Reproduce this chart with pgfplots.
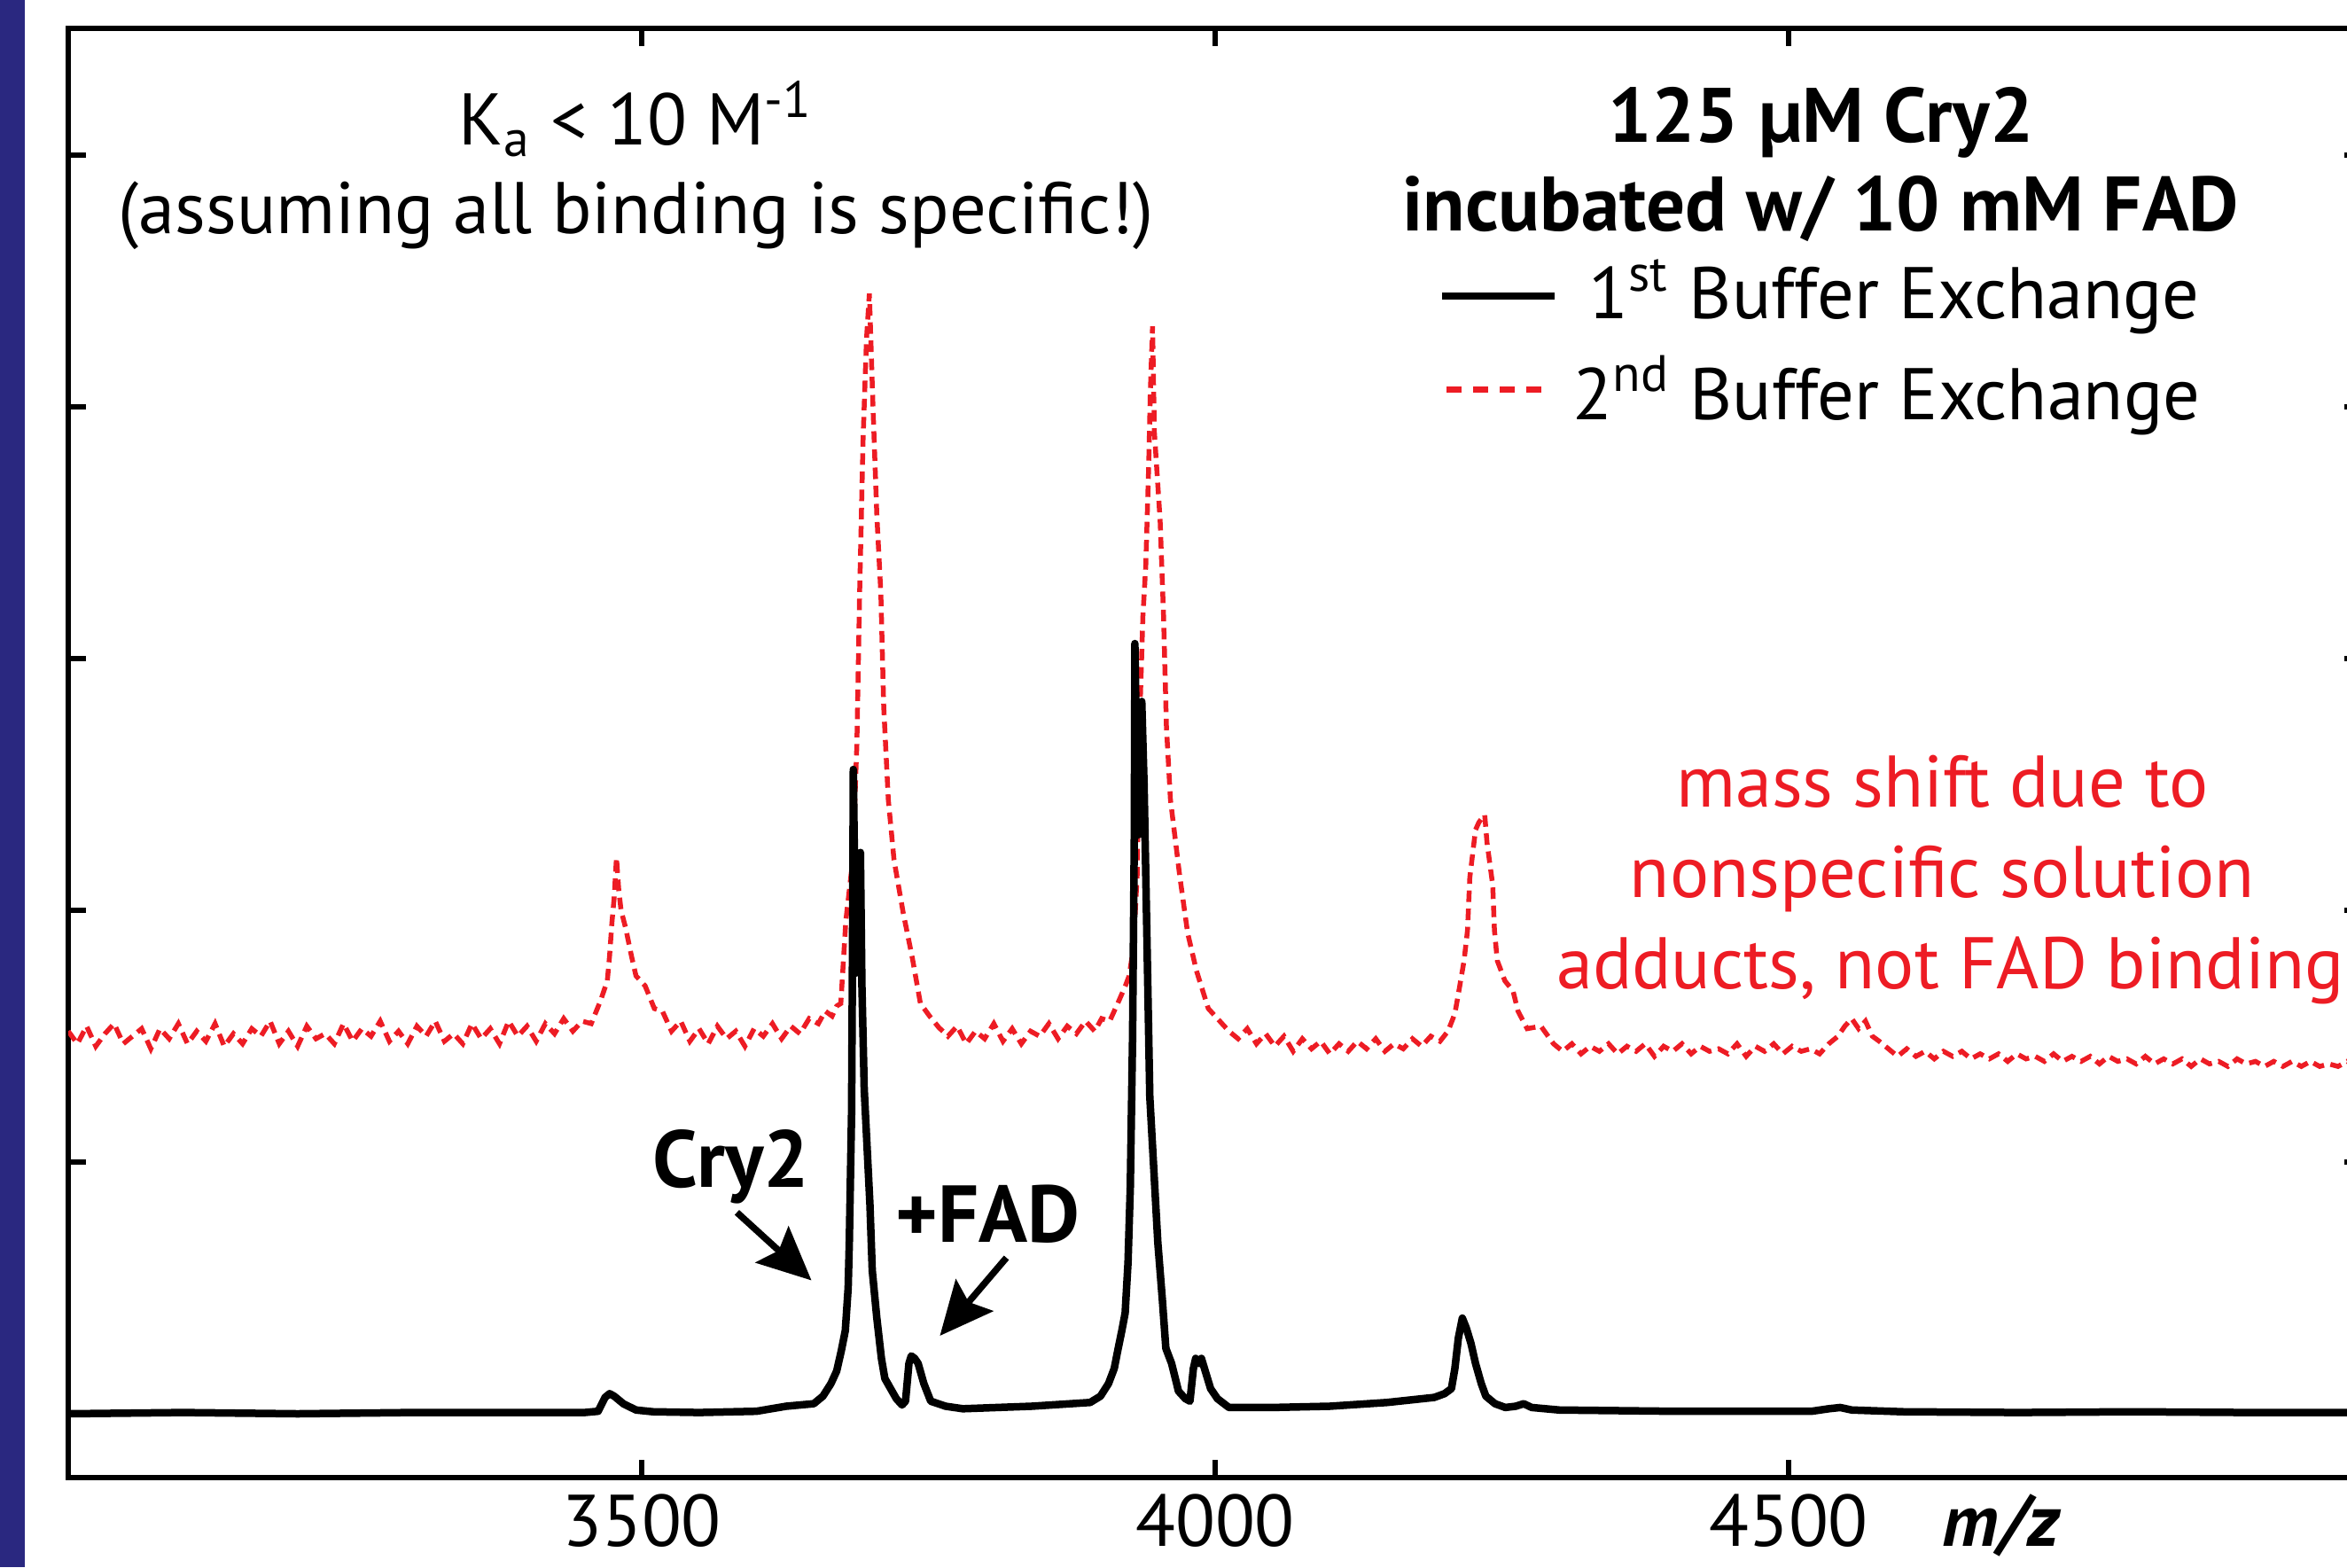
\documentclass[border=0pt]{standalone}
\usepackage{fontspec}
\setmainfont{PT Sans}
\usepackage{pgfplots}
\pgfplotsset{compat=1.18}
\usetikzlibrary{arrows.meta}
\definecolor{specred}{RGB}{237,28,36}
\definecolor{stripblue}{RGB}{42,40,128}
\newcommand\fs{\fontsize{16.5}{20}\selectfont}
\newcommand\fb{\fontsize{17.4}{20}\selectfont\bfseries}
\newcommand\fa{\fontsize{18.2}{20}\selectfont\bfseries}

\begin{document}
\begin{tikzpicture}
\begin{axis}[
    scale only axis,
    width=517.6pt, height=327pt,
    xmin=3000, xmax=5000,
    ymin=-0.2535, ymax=5.504,
    xtick={3500,4000,4500},
    ytick={1,2,3,4,5},
    yticklabels={},
    tick pos=both,
    tick align=inside,
    major tick length=4pt,
    axis line style={line width=1.2pt},
    tick style={line width=1.1pt, black},
    /pgf/number format/1000 sep={},
    /pgf/number format/assume math mode=true,
    xticklabel style={font=\fs, anchor=base, inner sep=0pt, yshift=-15.4pt},
    xlabel={\bfseries\itshape m/z},
    xlabel style={font=\fs, at={(rel axis cs:0.8425,0)}, anchor=base, inner sep=0pt, yshift=-15.4pt},
    clip mode=individual,
]

% 2nd buffer exchange (red, dashed, noisy)
\addplot[specred, line width=1.1pt, dash pattern=on 2.6pt off 1.5pt] coordinates {
(3000,1.52)(3008,1.47)(3016,1.54)(3024,1.46)(3032,1.51)(3040,1.55)(3048,1.47)(3056,1.50)
(3064,1.53)(3072,1.45)(3080,1.53)(3088,1.49)(3096,1.55)(3104,1.47)(3112,1.52)(3120,1.48)
(3128,1.55)(3136,1.46)(3144,1.51)(3152,1.47)(3160,1.53)(3168,1.50)(3176,1.56)(3184,1.47)
(3192,1.52)(3200,1.46)(3208,1.54)(3216,1.49)(3224,1.51)(3232,1.47)(3240,1.55)(3248,1.48)
(3256,1.53)(3264,1.50)(3272,1.56)(3280,1.48)(3288,1.52)(3296,1.47)(3304,1.54)(3312,1.50)
(3320,1.56)(3328,1.48)(3336,1.51)(3344,1.47)(3352,1.55)(3360,1.49)(3368,1.53)(3376,1.47)
(3384,1.56)(3392,1.50)(3400,1.54)(3408,1.48)(3416,1.55)(3424,1.51)(3432,1.57)(3440,1.52)
(3448,1.56)(3456,1.55)
(3464,1.64)(3470,1.72)(3472,1.82)(3474,1.95)(3476,2.05)(3478,2.21)(3480,2.08)(3482,2.00)
(3486,1.93)(3491,1.82)(3495,1.74)(3503,1.70)(3511,1.61)(3518,1.60)(3526,1.52)
(3534,1.56)(3542,1.48)(3550,1.53)(3558,1.47)(3566,1.54)(3574,1.49)(3582,1.52)(3590,1.46)
(3598,1.53)(3606,1.50)(3614,1.55)(3622,1.49)(3630,1.54)(3638,1.51)(3646,1.57)(3654,1.55)
(3660,1.60)(3666,1.58)(3670,1.62)
(3673.6,1.63)(3678,1.96)(3684,2.20)(3687.6,2.66)(3690,3.26)(3693,3.87)(3696,4.27)(3698.5,4.45)
(3701.5,4.02)(3705,3.57)(3708.5,3.26)(3711,2.81)(3715,2.44)(3720,2.20)(3728,1.99)(3736,1.81)
(3743,1.63)(3751,1.58)(3759,1.535)
(3767,1.50)(3775,1.54)(3783,1.47)(3791,1.52)(3799,1.49)(3807,1.55)(3815,1.48)(3823,1.53)
(3831,1.47)(3839,1.52)(3847,1.50)(3855,1.55)(3863,1.49)(3871,1.54)(3879,1.51)(3887,1.56)
(3895,1.52)(3901,1.57)(3908,1.56)(3915,1.63)(3921.7,1.70)(3925,1.74)(3928.7,1.85)
(3932,2.14)(3934,2.73)(3937,3.17)(3939.5,3.37)(3942,3.76)(3943.4,4.05)(3945.4,4.32)
(3947,3.90)(3952,3.55)(3955,3.17)(3957.5,2.73)(3961,2.44)(3969,2.14)(3976,1.91)(3983.7,1.76)
(3994,1.61)(4002,1.57)(4012,1.52)
(4020,1.49)(4028,1.53)(4036,1.47)(4044,1.51)(4052,1.46)(4060,1.50)(4068,1.44)(4076,1.49)
(4084,1.45)(4092,1.48)(4100,1.43)(4108,1.47)(4116,1.44)(4124,1.48)(4132,1.45)(4140,1.49)
(4148,1.44)(4156,1.47)(4164,1.45)(4172,1.49)(4180,1.46)(4188,1.50)(4196,1.48)(4203,1.52)
(4209,1.59)(4212.5,1.68)(4217,1.80)(4220,1.92)(4222,2.13)(4227,2.32)(4230,2.35)(4235,2.38)
(4237,2.27)(4242,2.10)(4243.5,1.92)(4246,1.80)(4252.6,1.72)(4259.7,1.68)(4264,1.60)
(4272,1.53)(4284,1.54)(4295,1.47)
(4303,1.44)(4311,1.47)(4319,1.43)(4327,1.46)(4335,1.44)(4343,1.47)(4351,1.43)(4359,1.46)
(4367,1.44)(4375,1.47)(4383,1.42)(4391,1.46)(4399,1.44)(4407,1.47)(4415,1.43)(4423,1.46)
(4431,1.44)(4439,1.45)(4447,1.43)(4455,1.47)(4463,1.42)(4471,1.46)(4479,1.44)(4487,1.47)
(4495,1.43)(4503,1.46)(4511,1.44)(4519,1.45)(4527,1.43)(4535,1.47)(4543,1.50)(4549,1.54)
(4555,1.57)(4561,1.53)(4567,1.56)(4573,1.50)(4579,1.48)(4587,1.45)(4595,1.42)(4603,1.45)
(4611,1.42)(4619,1.44)(4627,1.41)(4635,1.44)(4643,1.42)(4651,1.44)(4659,1.41)(4667,1.43)
(4675,1.41)(4683,1.43)(4691,1.40)(4699,1.43)(4707,1.41)(4715,1.42)(4723,1.40)(4731,1.43)
(4739,1.40)(4747,1.42)(4755,1.40)(4763,1.42)(4771,1.39)(4779,1.42)(4787,1.40)(4795,1.41)
(4803,1.39)(4811,1.42)(4819,1.39)(4827,1.41)(4835,1.39)(4843,1.41)(4851,1.38)(4859,1.41)
(4867,1.39)(4875,1.40)(4883,1.38)(4891,1.41)(4899,1.39)(4907,1.40)(4915,1.38)(4923,1.40)
(4931,1.38)(4939,1.40)(4947,1.38)(4955,1.40)(4963,1.38)(4971,1.39)(4979,1.38)(4987,1.40)
(4995,1.38)(5000,1.39)
};

% 1st buffer exchange (black, solid)
\addplot[black, line width=1.7pt, line join=round] coordinates {
(3000,0.0)(3100,0.005)(3200,0.0)(3300,0.005)(3400,0.005)(3450,0.005)(3462,0.01)(3468,0.065)
(3472,0.08)(3476,0.07)(3484,0.04)(3495,0.015)(3510,0.008)(3550,0.005)(3600,0.01)(3626,0.03)
(3650,0.04)(3658,0.07)(3665,0.12)(3670,0.17)(3674,0.25)(3677.5,0.33)(3680,0.5)(3681,0.68)
(3683,1.2)(3684,2.0)(3684.5,2.56)(3685.5,2.2)(3686.5,1.75)(3688,1.9)(3690.7,2.23)(3692,1.7)
(3694,1.29)(3699,0.83)(3701,0.57)(3705,0.38)(3709,0.22)(3712,0.14)(3717,0.10)(3722,0.06)
(3727,0.035)(3730,0.05)(3733,0.2)(3735,0.23)(3738,0.22)(3741,0.2)(3746,0.12)(3752,0.05)
(3765,0.03)(3780,0.02)(3840,0.03)(3891,0.045)(3900,0.07)(3907,0.12)(3912,0.18)(3915,0.25)
(3918.6,0.33)(3921.5,0.4)(3924,0.6)(3926,0.9)(3928,1.5)(3929.5,2.3)(3930,3.06)(3931.5,2.6)
(3933,2.3)(3935,2.6)(3936,2.83)(3938,2.5)(3939.5,2.14)(3943,1.26)(3950,0.68)(3954,0.45)
(3957,0.26)(3962,0.2)(3968,0.09)(3974,0.06)(3978,0.05)(3981,0.18)(3983,0.22)(3986,0.2)
(3988,0.22)(3992,0.16)(3996,0.1)(4002,0.06)(4012,0.025)(4050,0.025)(4100,0.03)(4150,0.045)
(4191,0.065)(4200,0.08)(4206,0.1)(4209,0.18)(4212,0.3)(4215.5,0.38)(4219,0.34)(4223,0.28)
(4227,0.2)(4232,0.12)(4236,0.07)(4244,0.04)(4253,0.025)(4262,0.03)(4269,0.04)(4276,0.025)
(4300,0.015)(4400,0.01)(4520,0.01)(4535,0.02)(4545,0.025)(4555,0.015)(4600,0.008)
(4700,0.005)(4800,0.008)(4900,0.005)(5000,0.005)
};

% annotations
\node[font=\fs, anchor=base] at (axis cs:3495,5.04) {K\textsubscript{a} < 10 M\textsuperscript{-1}};
\node[font=\fs, anchor=base] at (axis cs:3495,4.69) {(assuming all binding is specific!)};
\node[font=\fb, anchor=base] at (axis cs:4528,5.05) {125 µM Cry2};
\node[font=\fb, anchor=base] at (axis cs:4528,4.70) {incubated w/ 10 mM FAD};
\draw[black, line width=1.6pt] (axis cs:4198,4.44) -- (axis cs:4296,4.44);
\node[font=\fs, anchor=base west, inner sep=0pt] at (axis cs:4325,4.35) {1\textsuperscript{st} Buffer Exchange};
\draw[specred, line width=1.4pt, dash pattern=on 3.4pt off 2.6pt] (axis cs:4202,4.07) -- (axis cs:4292,4.07);
\node[font=\fs, anchor=base west, inner sep=0pt] at (axis cs:4311,3.95) {2\textsuperscript{nd} Buffer Exchange};
\node[font=\fs, text=specred, anchor=base] at (axis cs:4634,2.41) {mass shift due to};
\node[font=\fs, text=specred, anchor=base] at (axis cs:4634,2.05) {nonspecific solution};
\node[font=\fs, text=specred, anchor=base] at (axis cs:4641,1.69) {adducts, not FAD binding};
\node[font=\fa, anchor=base] at (axis cs:3578,0.90) {Cry2};
\node[font=\fa, anchor=base] at (axis cs:3802,0.68) {+FAD};
\draw[line width=1.5pt, -{Stealth[length=12pt, width=11pt, inset=2pt]}] (axis cs:3583,0.80) -- (axis cs:3648,0.53);
\draw[line width=1.5pt, -{Stealth[length=12pt, width=11pt, inset=2pt]}] (axis cs:3818,0.62) -- (axis cs:3760,0.31);
\end{axis}
\fill[stripblue] (-15.4pt,-20.2pt) rectangle (-9.8pt,333.4pt);
\pgfresetboundingbox
\useasboundingbox (-15.4pt,-20.2pt) rectangle (514.2pt,333.4pt);
\end{tikzpicture}
\end{document}
